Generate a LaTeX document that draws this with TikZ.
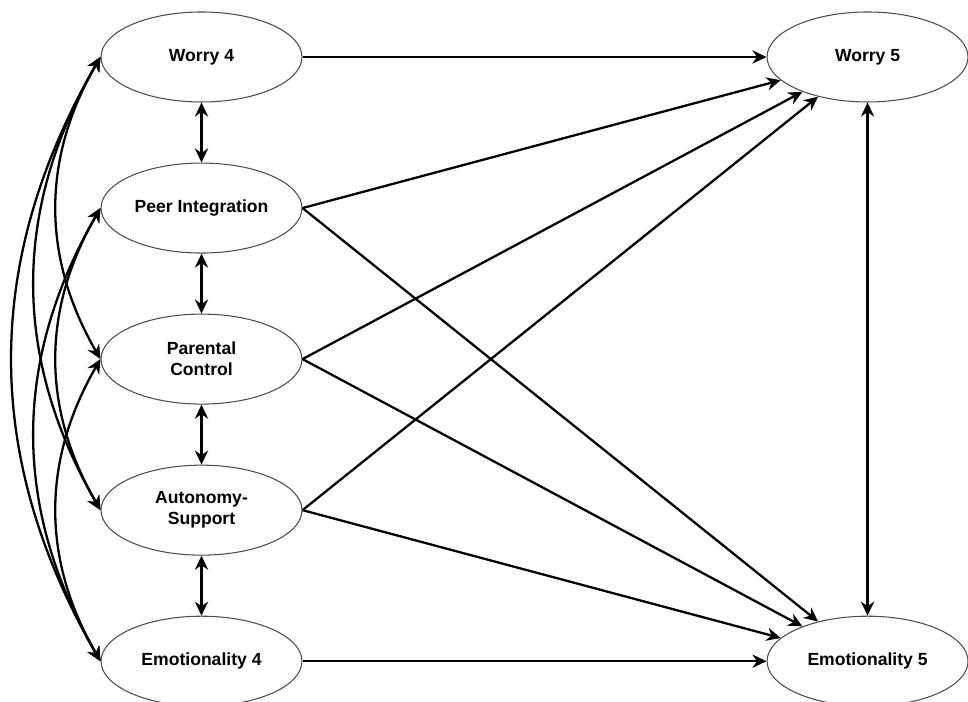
\documentclass[tikz,border=0pt]{standalone}
\usepackage{fontspec}
\setmainfont{Liberation Sans}
\usetikzlibrary{arrows.meta,positioning,shapes.geometric}

\begin{document}
\begin{tikzpicture}[font=\bfseries\fontsize{10}{12}\selectfont,
  latent/.style={ellipse, draw=black!70, line width=0.6pt, minimum width=4.02cm,
    minimum height=1.8cm, inner sep=0pt, align=center},
  regr/.style={-{Stealth[length=8pt,width=7.5pt]}, line width=1.3pt},
  covar/.style={{Stealth[length=8pt,width=7.5pt]}-{Stealth[length=8pt,width=7.5pt]},
    line width=1.3pt}]

\useasboundingbox (0,0) rectangle (19.36,14.04);

%% Wave 4 (left column)
\node[latent] (w4) at (4.03,12.9) {Worry 4};
\node[latent, below=1.2cm of w4] (pi) {Peer Integration};
\node[latent, below=1.2cm of pi] (pc) {Parental\\Control};
\node[latent, below=1.2cm of pc] (as) {Autonomy-\\Support};
\node[latent, below=1.2cm of as] (e4) {Emotionality 4};

%% Wave 5 (right column)
\node[latent, right=9.28cm of w4] (w5) {Worry 5};
\node[latent, right=9.28cm of e4] (e5) {Emotionality 5};

%% Stability paths
\draw[regr] (w4) -- (w5);
\draw[regr] (e4) -- (e5);

%% Cross paths
\draw[regr] (pi.east) -- (w5);
\draw[regr] (pc.east) -- (w5);
\draw[regr] (as.east) -- (w5);
\draw[regr] (pi.east) -- (e5);
\draw[regr] (pc.east) -- (e5);
\draw[regr] (as.east) -- (e5);

%% Neighbour covariances
\draw[covar] (w4) -- (pi);
\draw[covar] (pi) -- (pc);
\draw[covar] (pc) -- (as);
\draw[covar] (as) -- (e4);
\draw[covar] (w5) -- (e5);

%% Curved covariances
\draw[covar] (w4.west) to[bend right=30] (pc.west);
\draw[covar] (w4.west) to[bend right=30] (as.west);
\draw[covar] (w4.west) to[bend right=30] (e4.west);
\draw[covar] (pi.west) to[bend right=30] (as.west);
\draw[covar] (pi.west) to[bend right=30] (e4.west);
\draw[covar] (pc.west) to[bend right=30] (e4.west);

\end{tikzpicture}
\end{document}
